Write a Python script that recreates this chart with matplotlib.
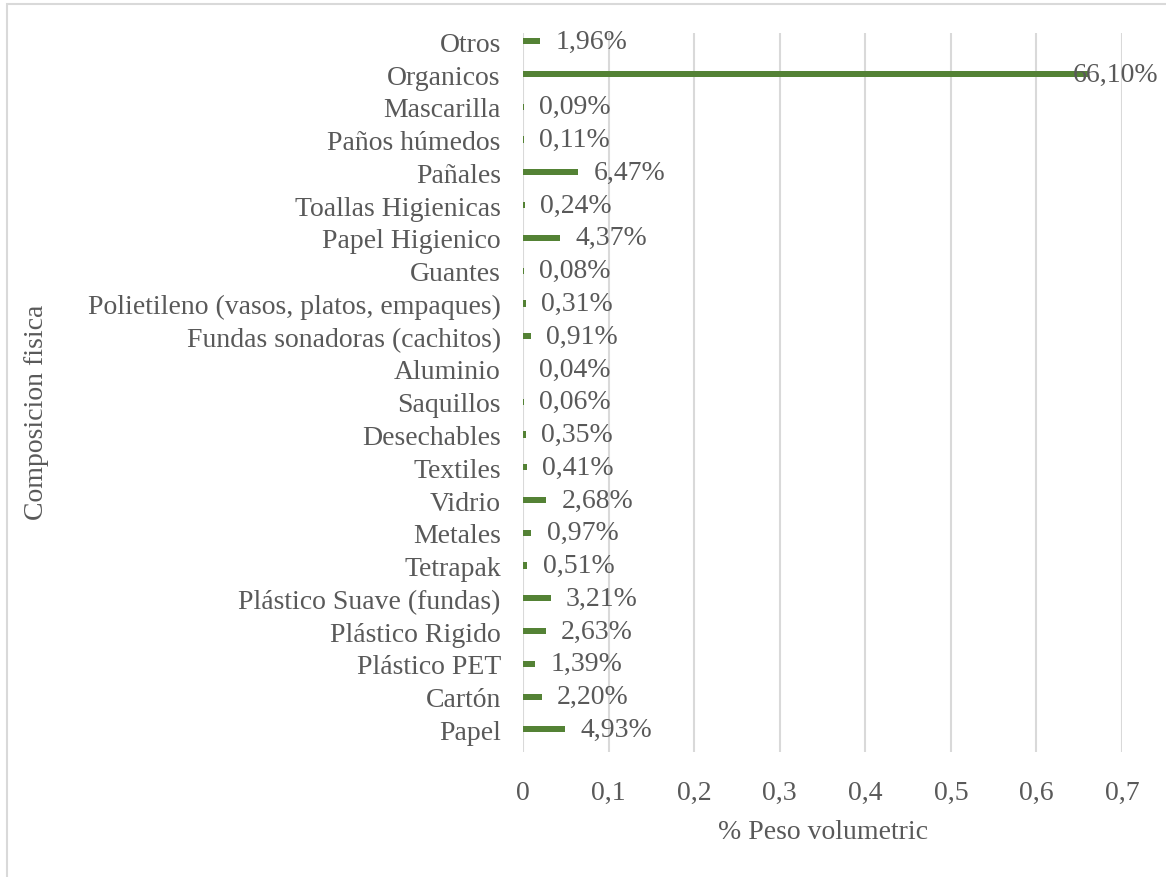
import matplotlib.pyplot as plt
from matplotlib.patches import Rectangle

# Composicion fisica de residuos (fraccion en peso), de abajo hacia arriba
categorias = [
    "Papel", "Cartón", "Plástico PET", "Plástico Rigido",
    "Plástico Suave (fundas)", "Tetrapak", "Metales", "Vidrio",
    "Textiles", "Desechables", "Saquillos", "Aluminio",
    "Fundas sonadoras (cachitos)", "Polietileno (vasos, platos, empaques)",
    "Guantes", "Papel Higienico", "Toallas Higienicas", "Pañales",
    "Paños húmedos", "Mascarilla", "Organicos", "Otros",
]
porcentajes = [
    4.93, 2.20, 1.39, 2.63, 3.21, 0.51, 0.97, 2.68, 0.41, 0.35, 0.06,
    0.04, 0.91, 0.31, 0.08, 4.37, 0.24, 6.47, 0.11, 0.09, 66.10, 1.96,
]
xticks = [0, 0.1, 0.2, 0.3, 0.4, 0.5, 0.6, 0.7]

verde = "#548235"
gris_texto = "#595959"
gris_rejilla = "#d9d9d9"
tam = 20

plt.rcParams["font.family"] = ["Liberation Serif", "DejaVu Serif"]

fig = plt.figure(figsize=(11.66, 8.78), dpi=100)
ax = fig.add_axes([0.4486, 0.142, 0.5137, 0.819])

fracciones = [p / 100 for p in porcentajes]
pos = list(range(len(categorias)))
ax.barh(pos, fracciones, height=0.19, color=verde, zorder=3)

ax.set_xlim(0, 0.7)
ax.set_ylim(-0.70, len(categorias) - 1 + 0.245)
ax.set_yticks(pos)
ax.set_yticklabels(categorias)
ax.set_xticks(xticks)
ax.set_xticklabels([str(t).replace(".", ",") for t in xticks])
ax.tick_params(axis="both", length=0, labelsize=tam, colors=gris_texto)
ax.tick_params(axis="y", pad=16)
ax.tick_params(axis="x", pad=20)

ax.grid(axis="x", color=gris_rejilla, linewidth=1.5, zorder=0)
for s in ax.spines.values():
    s.set_visible(False)

# etiquetas de datos; la ultima se recorta al borde del area
for y, f, p in zip(pos, fracciones, porcentajes):
    texto = f"{p:.2f}%".replace(".", ",")
    if f > 0.6:
        ax.annotate(texto, xy=(1.0, y), xycoords=("axes fraction", "data"),
                    xytext=(26, 0), textcoords="offset points",
                    ha="right", va="center", fontsize=tam, color=gris_texto,
                    zorder=4, annotation_clip=False)
    else:
        ax.annotate(texto, xy=(f, y), xytext=(11, 0), textcoords="offset points",
                    ha="left", va="center", fontsize=tam, color=gris_texto,
                    zorder=4)

ax.set_xlabel("% Peso volumetric", fontsize=tam, color=gris_texto, labelpad=10)
fig.text(0.031, 0.53, "Composicion fisica", rotation=90, ha="center",
         va="center", fontsize=tam, color=gris_texto)

# marco del grafico
fig.patches.append(Rectangle((7 / 1166, -0.1), 1.2, 1 - 5 / 878 + 0.1,
                             transform=fig.transFigure, fill=False,
                             edgecolor=gris_rejilla, linewidth=1.5))

fig.savefig("out.png", dpi=100)
